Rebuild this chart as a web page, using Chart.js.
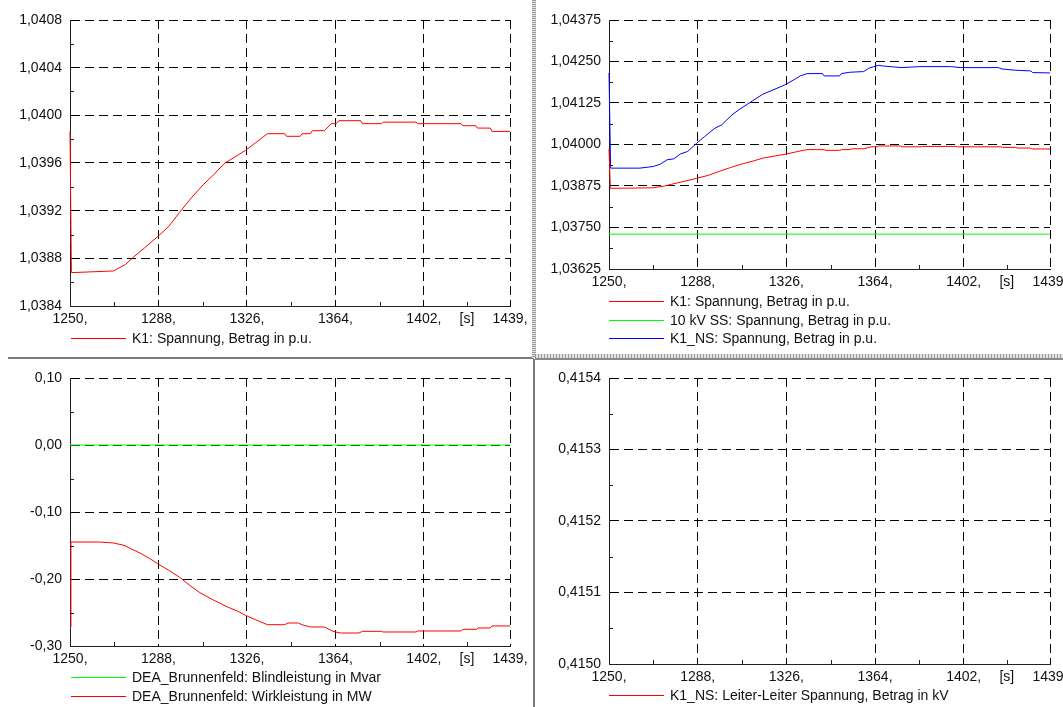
<!DOCTYPE html>
<html><head><meta charset="utf-8">
<script src="https://cdn.jsdelivr.net/npm/chart.js@4"></script>
<style>
html,body{margin:0;padding:0;background:#fff;width:1063px;height:707px;overflow:hidden;position:relative;}
canvas{position:absolute;}
.sep{position:absolute;z-index:5;}
</style></head>
<body>
<canvas id="c1" width="533" height="356" style="left:0;top:0;width:533px;height:356px"></canvas>
<canvas id="c2" width="540" height="352" style="left:535px;top:0;width:540px;height:352px"></canvas>
<canvas id="c3" width="533" height="347" style="left:0;top:360px;width:533px;height:347px"></canvas>
<canvas id="c4" width="540" height="347" style="left:535px;top:360px;width:540px;height:347px"></canvas>
<div class="sep" style="left:8px;top:357px;width:526px;height:2px;background:#7a7a7a"></div>
<div class="sep" style="left:532px;top:0;width:4px;height:358px;background:repeating-linear-gradient(to bottom,#9a9a9a 0 1px,#e2e2e2 1px 2px)"></div>
<div class="sep" style="left:535px;top:354px;width:528px;height:4px;background:repeating-linear-gradient(to right,#9a9a9a 0 1px,#e2e2e2 1px 3px)"></div>
<div class="sep" style="left:535px;top:358px;width:528px;height:2px;background:#8a8a8a"></div>
<div class="sep" style="left:533px;top:359px;width:2px;height:348px;background:#7a7a7a"></div>
<script>
// ---- X axis (time in s) ----
const xMin = 1250, xMax = 1439;
const xMajor = [1250, 1288, 1326, 1364, 1402, 1439];
const xUnitPos = 1420.5;            // position of the "[s]" unit label
const xUnitLabel = '[s]';
const xMinor = [1269, 1307, 1345, 1383, 1420.5];

// ---- Panel 1 / Panel 2: K1 Spannung (p.u.) ----
const k1Time = [1250,1250.6,1268.7,1273.9,1276.9,1282.1,1287.6,1292.5,1296.9,1302.1,1307.3,1311.8,1316.2,1325.4,1329.6,1334.8,1342.2,1343.0,1348.9,1349.7,1353.3,1354.1,1359.3,1362.2,1364.4,1365.5,1374.9,1375.6,1383.8,1384.5,1398.6,1399.4,1417.9,1418.7,1424.3,1425.0,1430.5,1431.3,1439];
const k1Volt = [1.039865,1.03868,1.038694,1.03875,1.038805,1.038889,1.038981,1.03907,1.039182,1.039307,1.039419,1.039503,1.039595,1.039706,1.039768,1.039846,1.039846,1.039824,1.039824,1.039846,1.039846,1.039871,1.039871,1.03993,1.03993,1.039955,1.039955,1.03993,1.03993,1.039943,1.039943,1.03993,1.03993,1.039913,1.039913,1.039893,1.039893,1.039865,1.039865];

// ---- Panel 2: 10 kV SS Spannung (p.u.) ----
const ssTime = [1250, 1439];
const ssVolt = [1.0373, 1.0373];

// ---- Panel 2: K1_NS Spannung (p.u.) ----
const nsTime = [1250,1250.7,1263.2,1269,1272,1274.9,1277.8,1280.7,1283.7,1287.6,1291,1295.4,1298.3,1302.7,1305.6,1311.5,1315.9,1320.3,1325.4,1329.1,1332,1334.9,1341.5,1342.2,1348.8,1349.6,1353.2,1359.1,1361.3,1363.5,1365.7,1367.2,1375.2,1383.2,1396.4,1400.8,1416.9,1418.4,1424.2,1430.8,1431.5,1439];
const nsVolt = [1.042156,1.039288,1.039288,1.039338,1.039408,1.039539,1.039569,1.039719,1.039789,1.04004,1.040241,1.040491,1.040592,1.040892,1.041043,1.041314,1.041514,1.041644,1.041795,1.041945,1.042066,1.042136,1.042136,1.042066,1.042066,1.042136,1.042176,1.042196,1.042296,1.042346,1.042386,1.042366,1.042316,1.042346,1.042346,1.042316,1.042316,1.042276,1.042236,1.042216,1.042166,1.042156];

// ---- Panel 3: DEA_Brunnenfeld ----
const qTime = [1250, 1439];
const qMvar = [0, 0];
const pTime = [1250,1250.4,1262.8,1268.7,1273.2,1276.1,1280.6,1284.3,1287.6,1292.5,1296.9,1301.4,1305.8,1311.8,1317.7,1322.2,1325.4,1329.6,1334.8,1342.2,1343.7,1348.1,1349.6,1353.3,1359.3,1363,1366,1374.1,1375.6,1383.8,1384.5,1398.6,1399.4,1417.9,1418.7,1424.6,1425.3,1430.5,1431.3,1439];
const pMW = [-0.2716,-0.1448,-0.1448,-0.1463,-0.1497,-0.1547,-0.1622,-0.1696,-0.1771,-0.1871,-0.197,-0.2094,-0.2204,-0.2318,-0.2418,-0.2483,-0.2542,-0.2607,-0.2682,-0.2682,-0.2657,-0.2657,-0.2682,-0.2716,-0.2716,-0.2781,-0.2806,-0.2806,-0.2781,-0.2781,-0.2791,-0.2791,-0.2776,-0.2776,-0.2751,-0.2751,-0.2731,-0.2731,-0.2701,-0.2701];

// ---- Panel 4: K1_NS Leiter-Leiter Spannung (kV) - no values inside the visible range ----
const llTime = [];
const llKV = [];

// ---- Y ticks ----
const y1Ticks = [1.0384,1.0388,1.0392,1.0396,1.0400,1.0404,1.0408];
const y2Ticks = [1.03625,1.0375,1.03875,1.04,1.04125,1.0425,1.04375];
const y3Ticks = [-0.30,-0.20,-0.10,0.00,0.10];
const y4Ticks = [0.4150,0.4151,0.4152,0.4153,0.4154];

const FONT = '"Liberation Sans", Arial, sans-serif';
const FS = 14;
const TXT = '#111';

function mids(a){const r=[];for(let i=0;i<a.length-1;i++)r.push((a[i]+a[i+1])/2);return r;}

const minorTickPlugin = {
  id:'minorTicks',
  afterDatasetsDraw(chart, args, opts){
    const {ctx, chartArea:a, scales:{x,y}} = chart;
    ctx.save(); ctx.strokeStyle='#222'; ctx.lineWidth=1; ctx.beginPath();
    (opts.x||[]).forEach(v=>{const px=Math.round(x.getPixelForValue(v))+0.5; ctx.moveTo(px,a.bottom); ctx.lineTo(px,a.bottom-4);});
    (opts.y||[]).forEach(v=>{const py=Math.round(y.getPixelForValue(v))+0.5; ctx.moveTo(a.left,py); ctx.lineTo(a.left+4,py);});
    ctx.stroke(); ctx.restore();
  }
};

const canvasLegend = {
  id:'canvasLegend',
  afterDraw(chart, args, o){
    const ctx = chart.ctx;
    ctx.save();
    ctx.font = FS + 'px ' + FONT; ctx.textBaseline = 'middle'; ctx.textAlign = 'left';
    chart.data.datasets.forEach((d,i)=>{
      const y = Math.round(o.top + i*o.step);
      ctx.strokeStyle = d.borderColor; ctx.lineWidth = 1;
      ctx.beginPath(); ctx.moveTo(o.left, y+0.5); ctx.lineTo(o.left+55, y+0.5); ctx.stroke();
      ctx.fillStyle = TXT;
      ctx.fillText(d.label, o.left+61, y+1);
    });
    ctx.restore();
  }
};

function makePanel(id, cfg){
  const yT = cfg.yTicks;
  return new Chart(document.getElementById(id), {
    type:'line',
    data:{datasets: cfg.series.map(s=>({
      label:s.label, data:s.t.map((t,i)=>({x:t,y:s.v[i]})),
      borderColor:s.color, backgroundColor:s.color, borderWidth:1,
      pointRadius:0, tension:0, fill:false, clip:{left:3,top:0,right:0,bottom:0}
    }))},
    options:{
      responsive:false, animation:false, events:[],
      layout:{padding:{top:cfg.top,left:0,right:cfg.right,bottom:cfg.bottom}},
      plugins:{legend:{display:false}, tooltip:{enabled:false},
        minorTicks:{x:xMinor, y:mids(yT)},
        canvasLegend:{left:cfg.legLeft, top:cfg.legTop, step:cfg.legStep}},
      scales:{
        x:{type:'linear', min:xMin, max:xMax,
          afterBuildTicks:s=>{s.ticks=[...xMajor.slice(0,5), xUnitPos, xMajor[5]].map(v=>({value:v}));},
          afterFit:s=>{s.height=cfg.xH;},
          grid:{color:c=>(c.tick && xMajor.includes(c.tick.value))?'#000':'rgba(0,0,0,0)', drawTicks:false, lineWidth:1},
          border:{color:'#222', width:1, dash:[9,5]},
          ticks:{autoSkip:false, maxRotation:0, minRotation:0, padding:5, color:TXT, font:{family:FONT,size:FS},
            callback:(v)=> v===xUnitPos ? xUnitLabel : (v+',')}
        },
        y:{type:'linear', min:yT[0], max:yT[yT.length-1],
          afterBuildTicks:s=>{s.ticks=yT.map(v=>({value:v}));},
          afterFit:s=>{s.width=cfg.yW;},
          grid:{color:'#000', drawTicks:false, lineWidth:1},
          border:{color:'#222', width:1, dash:[9,5]},
          ticks:{padding:8, color:TXT, font:{family:FONT,size:FS},
            callback:(v)=> v.toFixed(cfg.dec).replace('.',',')}
        }
      }
    },
    plugins:[minorTickPlugin, canvasLegend]
  });
}

makePanel('c1',{yTicks:y1Ticks, dec:4, top:20, right:23, bottom:26, xH:24, yW:70, legLeft:71, legTop:338, legStep:18.7,
  series:[{label:'K1: Spannung, Betrag in p.u.', t:k1Time, v:k1Volt, color:'#ff0000'}]});
makePanel('c2',{yTicks:y2Ticks, dec:5, top:20, right:25, bottom:57, xH:26, yW:74, legLeft:74, legTop:301, legStep:18.7,
  series:[{label:'K1: Spannung, Betrag in p.u.', t:k1Time, v:k1Volt, color:'#ff0000'},
          {label:'10 kV SS: Spannung, Betrag in p.u.', t:ssTime, v:ssVolt, color:'#00ff00'},
          {label:'K1_NS: Spannung, Betrag in p.u.', t:nsTime, v:nsVolt, color:'#0000ff'}]});
makePanel('c3',{yTicks:y3Ticks, dec:2, top:18, right:23, bottom:37, xH:24, yW:70, legLeft:71, legTop:317, legStep:18.6,
  series:[{label:'DEA_Brunnenfeld: Blindleistung in Mvar', t:qTime, v:qMvar, color:'#00ff00'},
          {label:'DEA_Brunnenfeld: Wirkleistung in MW', t:pTime, v:pMW, color:'#ff0000'}]});
makePanel('c4',{yTicks:y4Ticks, dec:4, top:18, right:25, bottom:17, xH:26, yW:74, legLeft:74, legTop:335, legStep:18.6,
  series:[{label:'K1_NS: Leiter-Leiter Spannung, Betrag in kV', t:llTime, v:llKV, color:'#ff0000'}]});
</script>
</body></html>
